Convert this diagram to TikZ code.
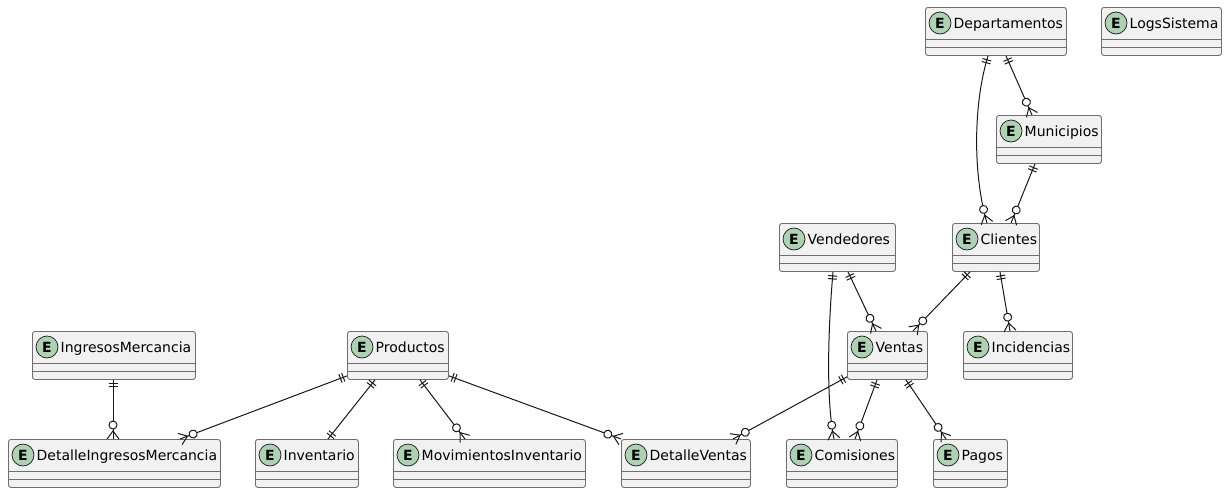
\documentclass[tikz,border=0pt]{standalone}
\usepackage{fontspec}
\setmainfont{DejaVu Sans}
\usetikzlibrary{decorations.markings}
\definecolor{lineC}{HTML}{181818}
\definecolor{boxF}{HTML}{F1F1F1}
\definecolor{boxD}{HTML}{6E6E6E}
\definecolor{circF}{HTML}{ADD1B2}
\tikzset{
  ebox/.style={draw=boxD, line width=0.9pt, fill=boxF, rounded corners=2.5pt,
    minimum height=48pt, inner sep=0pt, anchor=north west},
  sepline/.style={draw=boxD, line width=0.9pt},
  ecirc/.style={circle, draw=lineC, line width=0.7pt, fill=circF, minimum size=22pt,
    inner sep=0pt, font=\fontsize{14pt}{14pt}\selectfont\bfseries},
  etext/.style={anchor=base west, inner sep=0pt, font=\fontsize{14pt}{17pt}\selectfont},
  relzero/.style={draw=lineC, line width=1pt, solid},
  rel/.style={draw=lineC, line width=1pt},
  onestart/.style={postaction={decorate, decoration={markings,
    mark=at position 4pt with {\draw[relzero] (0pt,-4.5pt) -- (0pt,4.5pt);},
    mark=at position 7pt with {\draw[relzero] (0pt,-4.5pt) -- (0pt,4.5pt);}}}},
  oneend/.style={postaction={decorate, decoration={markings,
    mark=at position -7pt with {\draw[relzero] (0pt,-4.5pt) -- (0pt,4.5pt);},
    mark=at position -4pt with {\draw[relzero] (0pt,-4.5pt) -- (0pt,4.5pt);}}}},
  manyend/.style={postaction={decorate, decoration={markings,
    mark=at position -14pt with {\draw[relzero, fill=white] (0pt,0pt) circle (4pt);},
    mark=at position -0.5pt with {\draw[relzero] (0.5pt,-6pt) -- (-7.5pt,0pt) -- (0.5pt,6pt);}}}},
}
\newcommand\entity[5]{%
  \node[ebox, minimum width=#4pt] (#1) at (#2,#3) {};
  \draw[sepline] ([yshift=-32pt]#1.north west) -- ([yshift=-32pt]#1.north east);
  \draw[sepline] ([yshift=-40pt]#1.north west) -- ([yshift=-40pt]#1.north east);
  \node[ecirc] (#1c) at ([xshift=15pt,yshift=-16pt]#1.north west) {E};
  \node[etext] (#1t) at ([xshift=28.5pt,yshift=-21.3pt]#1.north west) {#5};
}
\begin{document}
\begin{tikzpicture}[x=1pt,y=-1pt]
\useasboundingbox (0,0) rectangle (1227,493);
\fill[white] (0,0) rectangle (1227,493);
% entities
\entity{dep}{925}{7}{141}{Departamentos}
\entity{logs}{1101}{7}{120}{LogsSistema}
\entity{mun}{996}{115}{105}{Municipios}
\entity{cli}{952}{223}{87}{Clientes}
\entity{ven}{779}{223}{116}{Vendedores}
\entity{vtas}{847}{331}{80}{Ventas}
\entity{inc}{963}{331}{109}{Incidencias}
\entity{ing}{32}{331}{163}{IngresosMercancia}
\entity{prod}{347}{331}{101}{Productos}
\entity{dim}{8}{439}{212}{DetalleIngresosMercancia}
\entity{inv}{255}{439}{103}{Inventario}
\entity{mov}{393}{439}{192}{MovimientosInventario}
\entity{dv}{621}{439}{129}{DetalleVentas}
\entity{com}{786}{439}{111}{Comisiones}
\entity{pag}{933}{439}{74}{Pagos}
% relations
\draw[rel, onestart, manyend] ([xshift=81pt]dep.south west) -- ([xshift=36pt]mun.north west);
\draw[rel, onestart, manyend] ([xshift=63pt]dep.south west) .. controls (973,105) and (973,175) .. ([xshift=35pt]cli.north west);
\draw[rel, onestart, manyend] ([xshift=39pt]mun.south west) -- ([xshift=59pt]cli.north west);
\draw[rel, onestart, manyend] ([xshift=18pt]cli.south west) -- ([xshift=66pt]vtas.north west);
\draw[rel, onestart, manyend] ([xshift=48pt]cli.south west) -- ([xshift=47pt]inc.north west);
\draw[rel, onestart, manyend] ([xshift=69pt]ven.south west) -- ([xshift=29pt]vtas.north west);
\draw[rel, onestart, manyend] ([xshift=54pt]ven.south west) .. controls (828,330) and (826,400) .. ([xshift=48pt]com.north west);
\draw[rel, onestart, manyend] ([xshift=30pt]vtas.south west) -- ([xshift=69pt]com.north west);
\draw[rel, onestart, manyend] ([xshift=59pt]vtas.south west) -- ([xshift=13pt]pag.north west);
\draw[rel, onestart, manyend] ([yshift=3pt]vtas.south west) -- ([xshift=112pt]dv.north west);
\draw[rel, onestart, manyend] ([yshift=4pt]prod.south west) -- ([xshift=172pt]dim.north west);
\draw[rel, onestart, oneend] ([xshift=28pt]prod.south west) -- ([xshift=73pt]inv.north west);
\draw[rel, onestart, manyend] ([xshift=73pt]prod.south west) -- ([xshift=72pt]mov.north west);
\draw[rel, onestart, manyend] ([yshift=4pt]prod.south east) -- (dv.north west);
\draw[rel, onestart, manyend] ([xshift=81pt]ing.south west) -- ([xshift=105pt]dim.north west);
\end{tikzpicture}
\end{document}
